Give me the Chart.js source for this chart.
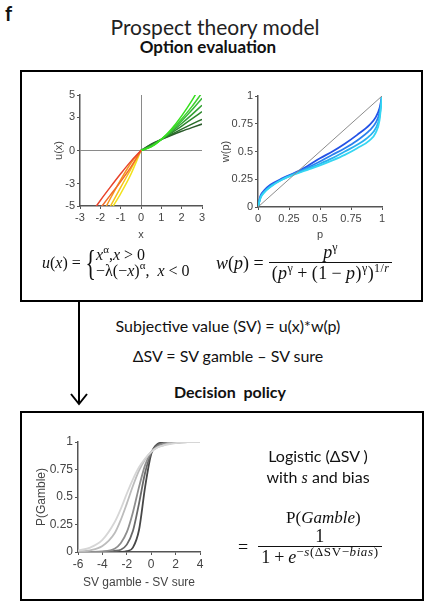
<!DOCTYPE html>
<html>
<head>
<meta charset="utf-8">
<script src="https://cdn.jsdelivr.net/npm/chart.js@4.4.1/dist/chart.umd.min.js"></script>
<style>
  body { margin: 0; width: 425px; height: 603px; background: #fff; position: relative; overflow: hidden;
         font-family: Lato, "Open Sans", sans-serif; color: #111; }
  .abs { position: absolute; }
  .ctr { position: absolute; width: 400px; text-align: center; white-space: nowrap; }
  .box { position: absolute; border: 2px solid #000; box-sizing: border-box; }
  canvas { position: absolute; }
  .math { position: absolute; font-family: "Liberation Serif", "DejaVu Serif", serif; font-size: 18px;
          display: flex; align-items: center; white-space: nowrap; color: #111; }
  .brace { font-size: 36px; line-height: 1; display: inline-block; transform: scaleX(0.6); margin: 0 -3px 0 1px; }
  .cases { display: flex; flex-direction: column; line-height: 16px; }
  .frac { display: inline-flex; flex-direction: column; align-items: center; margin-left: 5px; }
  .frac .num { border-bottom: 1px solid #111; width: 100%; text-align: center; line-height: 19px; }
  .frac .den { line-height: 20px; padding: 0 3px; }
  sup { font-size: 12px; vertical-align: 7px; line-height: 0; }
  .sp { margin: 0 4px; }
</style>
</head>
<body>

<div class="abs" style="left:5px; top:1px; font-weight:bold; font-size:20px;">f</div>
<div class="ctr" style="left:15px; top:14px; font-size:21px; color:#222;">Prospect theory model</div>
<div class="ctr" style="left:8px; top:36px; font-size:17px; font-weight:bold;">Option evaluation</div>

<div class="box" style="left:20px; top:70px; width:403px; height:232px;"></div>
<div class="box" style="left:20px; top:411px; width:404px; height:190px;"></div>

<canvas id="uChart" width="162" height="161" style="left:48px; top:85px;"></canvas>
<canvas id="wChart" width="175" height="160" style="left:215px; top:86px;"></canvas>
<canvas id="pChart" width="178" height="162" style="left:30px; top:432px;"></canvas>

<div class="math" style="left:42px; top:246px; height:34px; font-size:16px;">
  <span><i>u</i>(<i>x</i>) =</span>
  <span class="brace">{</span>
  <span class="cases">
    <span><i>x</i><sup style="font-size:11px;">α</sup>,<i>x</i> &gt; 0</span>
    <span>−λ(−<i>x</i>)<sup style="font-size:11px;">α</sup>, &nbsp;<i>x</i> &lt; 0</span>
  </span>
</div>

<div class="math" style="left:216px; top:243px; height:40px;">
  <span><i>w</i>(<i>p</i>) =</span>
  <span class="frac">
    <span class="num"><i>p</i><sup>γ</sup></span>
    <span class="den" style="letter-spacing:0.4px;">(<i>p</i><sup>γ</sup><span class="sp">+</span>(1<span class="sp">−</span><i>p</i>)<sup>γ</sup>)<sup>1/<i>r</i></sup></span>
  </span>
</div>

<div class="ctr" style="left:28px; top:316px; font-size:16px;">Subjective value (SV) = u(x)*w(p)</div>
<div class="ctr" style="left:28px; top:346px; font-size:16px;">ΔSV = SV gamble – SV sure</div>
<div class="ctr" style="left:30px; top:382px; font-size:16px; font-weight:bold;">Decision&nbsp; policy</div>

<svg class="abs" style="left:0; top:0;" width="425" height="603">
  <line x1="79" y1="301" x2="79" y2="404" stroke="#000" stroke-width="2"/>
  <polyline points="71,394 79,404 87,394" fill="none" stroke="#000" stroke-width="2"/>
</svg>

<div class="ctr" style="left:118px; top:445px; font-size:16px; line-height:21px;">Logistic (ΔSV )<br>with <i style="font-family:'Liberation Serif',serif;">s</i> and bias</div>

<div class="math" style="left:286px; top:508px; font-size:17px;"><span>P(<i>Gamble</i>)</span></div>
<div class="math" style="left:238px; top:527px; height:40px;">
  <span>=</span>
  <span class="frac" style="margin-left:10px;">
    <span class="num">1</span>
    <span class="den">1<span class="sp">+</span><i>e</i><sup style="font-size:13px; letter-spacing:0.6px;">−<i>s</i>(ΔSV−<i>bias</i>)</sup></span>
  </span>
</div>

<script>
// ---- u(x): value function ----
const gainX = [0, 0.5, 1, 1.5, 2, 2.5, 3];
const gainU = [
  [0, 0.32, 1, 1.94, 3.12, 4.49, 6.06],
  [0, 0.35, 1, 1.84, 2.83, 3.95, 5.20],
  [0, 0.38, 1, 1.77, 2.66, 3.64, 4.70],
  [0, 0.41, 1, 1.68, 2.43, 3.23, 4.08],
  [0, 0.45, 1, 1.59, 2.20, 2.84, 3.50],
  [0, 0.52, 1, 1.46, 1.92, 2.37, 2.81],
  [0, 0.58, 1, 1.38, 1.73, 2.06, 2.38]
];
const gainColors = ['#36e01e', '#3fcf2f', '#38b838', '#31a031', '#2c872c', '#2a6e2a', '#2b5b2b'];
const lossX = [-2.5, -2, -1.5, -1, -0.5, 0];
const lossU = [
  [-5.8, -4.5, -3.28, -2.1, -0.98, 0],
  [-6.4, -5.2, -4.0, -2.8, -1.5, 0],
  [-7.8, -6.06, -4.3, -2.64, -1.15, 0],
  [-8.3, -6.67, -5.0, -3.33, -1.67, 0],
  [-8.2, -7.0, -5.4, -3.88, -2.15, 0]
];
const lossColors = ['#e8432b', '#f26b2a', '#f5971f', '#f7c11a', '#f2e21e'];
const uTicks = [-5, -3, 0, 3, 5];

// ---- w(p): probability weighting ----
const probP = [0, 0.02, 0.05, 0.1, 0.2, 0.3, 0.4, 0.5, 0.6, 0.7, 0.8, 0.9, 0.95, 0.98, 1];
const weightW = [
  [0, 0.08, 0.13, 0.18, 0.25, 0.295, 0.335, 0.375, 0.42, 0.47, 0.53, 0.60, 0.67, 0.78, 1],
  [0, 0.085, 0.135, 0.185, 0.25, 0.30, 0.345, 0.39, 0.44, 0.50, 0.56, 0.64, 0.71, 0.81, 1],
  [0, 0.09, 0.14, 0.19, 0.255, 0.305, 0.355, 0.41, 0.47, 0.53, 0.60, 0.69, 0.76, 0.85, 1],
  [0, 0.10, 0.15, 0.20, 0.26, 0.31, 0.37, 0.44, 0.50, 0.57, 0.65, 0.74, 0.81, 0.89, 1]
];
const weightColors = ['#35d6f2', '#2ab0f0', '#2a80ee', '#2352e6'];
const diagP = [0, 1];

// ---- decision policy ----
const dsvX = [-6, -5, -4, -3, -2.5, -2, -1.5, -1, -0.5, 0, 0.5, 1, 1.5, 2, 3, 4];
const pGamble = [
  [0.013, 0.04, 0.11, 0.27, 0.39, 0.53, 0.66, 0.77, 0.85, 0.91, 0.95, 0.97, 0.98, 0.99, 1, 1],
  [0.004, 0.015, 0.054, 0.17, 0.29, 0.44, 0.60, 0.74, 0.84, 0.91, 0.95, 0.97, 0.99, 0.99, 1, 1],
  [0, 0.001, 0.005, 0.03, 0.08, 0.18, 0.36, 0.59, 0.79, 0.91, 0.96, 0.985, 0.995, 1, 1, 1],
  [0, 0, 0.001, 0.01, 0.02, 0.067, 0.19, 0.44, 0.72, 0.90, 0.97, 0.99, 1, 1, 1, 1],
  [0, 0, 0, 0, 0.001, 0.007, 0.04, 0.20, 0.59, 0.89, 0.98, 0.996, 1, 1, 1, 1]
];
const grayColors = ['#d6d6d6', '#bcbcbc', '#8e8e8e', '#686868', '#474747'];

Chart.defaults.font.family = '"Liberation Sans", Arial, sans-serif';
Chart.defaults.color = '#444';

const pts = (xs, ys) => xs.map((x, i) => ({ x: x, y: ys[i] }));

function curve(xs, ys, color, w) {
  return {
    data: pts(xs, ys), borderColor: color, borderWidth: w, showLine: true,
    pointRadius: 0, cubicInterpolationMode: 'monotone', fill: false
  };
}

function axis(min, max, title, fontSize, fitSize, horizontal) {
  return {
    type: 'linear', min: min, max: max,
    ticks: { font: { size: fontSize }, padding: 2, color: '#444' },
    grid: { drawOnChartArea: false, tickColor: '#555', tickLength: 3 },
    border: { color: '#555', width: 1.5 },
    title: { display: true, text: title, font: { size: fontSize }, color: '#444' },
    afterFit: horizontal ? (sc => { sc.height = fitSize; }) : (sc => { sc.width = fitSize; })
  };
}

function baseOptions(scales) {
  return {
    responsive: false, animation: false, events: [],
    layout: { padding: { top: 10, right: 8, left: 0, bottom: 0 } },
    plugins: { legend: { display: false }, tooltip: { enabled: false } },
    scales: scales
  };
}

const zeroGrid = c => (c.tick && c.tick.value === 0) ? '#8a8a8a' : 'rgba(0,0,0,0)';

// u(x)
const uSets = [];
lossU.forEach((ys, i) => uSets.push(curve(lossX, ys, lossColors[i], 1.5)));
gainU.forEach((ys, i) => uSets.push(curve(gainX, ys, gainColors[i], 1.5)));
const ux = axis(-3, 3, 'x', 11, 40, true);
ux.ticks.stepSize = 1;
ux.grid = { drawOnChartArea: true, color: zeroGrid, tickColor: '#555', tickLength: 3 };
const uy = axis(-5, 5, 'u(x)', 11, 32, false);
uy.afterBuildTicks = sc => { sc.ticks = uTicks.map(v => ({ value: v })); };
uy.grid = { drawOnChartArea: true, color: zeroGrid, tickColor: '#555', tickLength: 3 };
new Chart(document.getElementById('uChart'), {
  type: 'scatter',
  data: { datasets: uSets },
  options: baseOptions({ x: ux, y: uy })
});

// w(p)
const wSets = [curve(diagP, diagP, '#8c8c8c', 1)];
weightW.forEach((ys, i) => wSets.push(curve(probP, ys, weightColors[i], 1.8)));
const wx = axis(0, 1, 'p', 11, 39, true);
wx.ticks.stepSize = 0.25;
wx.ticks.callback = v => String(v);
const wy = axis(0, 1, 'w(p)', 11, 43, false);
wy.ticks.stepSize = 0.25;
wy.ticks.callback = v => String(v);
new Chart(document.getElementById('wChart'), {
  type: 'scatter',
  data: { datasets: wSets },
  options: baseOptions({ x: wx, y: wy })
});

// decision policy
const pSets = pGamble.map((ys, i) => curve(dsvX, ys, grayColors[i], 1.8));
const px = axis(-6, 4, 'SV gamble - SV sure', 12, 42, true);
px.ticks.stepSize = 2;
const py = axis(0, 1, 'P(Gamble)', 12, 48, false);
py.ticks.stepSize = 0.25;
py.ticks.callback = v => String(v);
new Chart(document.getElementById('pChart'), {
  type: 'scatter',
  data: { datasets: pSets },
  options: baseOptions({ x: px, y: py })
});
</script>
</body>
</html>
